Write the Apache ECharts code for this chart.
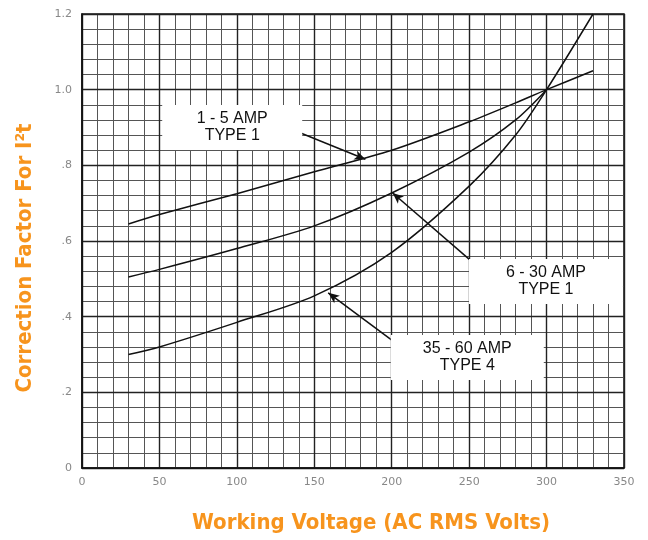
<!DOCTYPE html>
<html>
<head>
<meta charset="utf-8">
<script src="https://cdn.jsdelivr.net/npm/echarts@6/dist/echarts.min.js"></script>
<style>
  html, body { margin: 0; padding: 0; background: #fff; }
  #main { width: 648px; height: 540px; }
</style>
</head>
<body>
<div id="main"></div>
<script>
  // 数据: 电压 (V) 与 修正系数
  var voltsA = [30, 50, 100, 150, 200, 250, 280, 300, 330];
  var amp1to5 = [0.645, 0.67, 0.725, 0.783, 0.84, 0.915, 0.965, 1.0, 1.05];
  var voltsB = [30, 50, 100, 150, 200, 250, 280, 300];
  var amp6to30 = [0.505, 0.525, 0.58, 0.64, 0.727, 0.835, 0.92, 1.0];
  var voltsC = [30, 50, 100, 150, 200, 250, 280, 300, 330];
  var amp35to60 = [0.30, 0.32, 0.385, 0.455, 0.57, 0.745, 0.88, 1.0, 1.2];

  var xTicks = [0, 50, 100, 150, 200, 250, 300, 350];
  var yTickLabels = ['0', '.2', '.4', '.6', '.8', '1.0', '1.2'];

  // 标注: 文字框与箭头 (数据坐标)
  var labelTexts = ['1 - 5 AMP\nTYPE 1', '6 - 30 AMP\nTYPE 1', '35 - 60 AMP\nTYPE 4'];
  var labelCenters = [[97.0, 0.90], [299.6, 0.493], [248.8, 0.292]];
  var arrowFrom = [[136, 0.894], [252, 0.545], [207, 0.317]];
  var arrowTo = [[183, 0.816], [200.6, 0.727], [159, 0.463]];

  function pairs(xs, ys) {
    return xs.map(function (x, i) { return [x, ys[i]]; });
  }

  var orange = '#F7941D';
  var titleFont = '"Liberation Sans Narrow", "DejaVu Sans Condensed", "Roboto", sans-serif';

  var chart = echarts.init(document.getElementById('main'), null, { renderer: 'canvas' });

  var curveStyle = { color: '#111', width: 1.5 };
  var boxSizes = [[140, 45], [154, 45], [153, 45]];

  function curve(name, xs, ys, idx) {
    return {
      name: name,
      type: 'line',
      smooth: 0.3,
      symbol: 'none',
      lineStyle: curveStyle,
      data: pairs(xs, ys),
      z: 3,
      markLine: {
        silent: true,
        symbol: ['none', 'arrow'],
        symbolSize: [7, 11],
        lineStyle: { color: '#111', width: 1.5, type: 'solid' },
        label: { show: false },
        data: [[{ coord: arrowFrom[idx] }, { coord: arrowTo[idx] }]]
      },
      markPoint: {
        silent: true,
        symbol: 'rect',
        symbolSize: boxSizes[idx],
        itemStyle: { color: '#fff' },
        label: {
          show: true,
          position: 'inside',
          color: '#111',
          fontSize: 16,
          lineHeight: 17,
          fontFamily: '"Liberation Sans", Arial, sans-serif',
          formatter: labelTexts[idx]
        },
        data: [{ coord: labelCenters[idx] }]
      }
    };
  }

  var option = {
    animation: false,
    backgroundColor: '#fff',
    grid: {
      left: 82, right: 24, top: 14, bottom: 72,
      show: true, borderColor: '#111', borderWidth: 1.5
    },
    xAxis: [
      {
        type: 'value', min: 0, max: 350, interval: 50, z: 2,
        name: 'Working Voltage (AC RMS Volts)',
        nameLocation: 'middle',
        nameGap: 44,
        nameTextStyle: {
          color: orange, fontSize: 22, fontWeight: 'bold',
          fontFamily: titleFont, padding: [0, 0, 0, 36]
        },
        axisLine: { show: true, lineStyle: { color: '#111', width: 1.5 } },
        axisTick: { show: false },
        axisLabel: {
          color: '#888', fontSize: 11, margin: 9,
          fontFamily: '"DejaVu Sans", sans-serif',
          formatter: function (v) { return xTicks.indexOf(v) >= 0 ? String(v) : ''; }
        },
        splitLine: { show: true, lineStyle: { color: '#222', width: 1.4 } }
      },
      {
        type: 'value', min: 0, max: 350, interval: 10, z: 1,
        axisLine: { show: false }, axisTick: { show: false }, axisLabel: { show: false },
        splitLine: { show: true, lineStyle: { color: '#555', width: 1 } }
      }
    ],
    yAxis: [
      {
        type: 'value', min: 0, max: 1.2, interval: 0.2, z: 2,
        name: 'Correction Factor For I\u00B2t',
        nameLocation: 'middle',
        nameGap: 46,
        nameRotate: 90,
        nameTextStyle: {
          color: orange, fontSize: 22, fontWeight: 'bold',
          fontFamily: titleFont, padding: [0, 34, 0, 0]
        },
        axisLine: { show: true, lineStyle: { color: '#111', width: 1.5 } },
        axisTick: { show: false },
        axisLabel: {
          color: '#888', fontSize: 11, margin: 10,
          fontFamily: '"DejaVu Sans", sans-serif',
          formatter: function (v) { return yTickLabels[Math.round(v / 0.2)]; }
        },
        splitLine: { show: true, lineStyle: { color: '#222', width: 1.4 } }
      },
      {
        type: 'value', min: 0, max: 1.2, interval: 0.04, z: 1,
        axisLine: { show: false }, axisTick: { show: false }, axisLabel: { show: false },
        splitLine: { show: true, lineStyle: { color: '#555', width: 1 } }
      }
    ],
    series: [
      curve('1 - 5 AMP TYPE 1', voltsA, amp1to5, 0),
      curve('6 - 30 AMP TYPE 1', voltsB, amp6to30, 1),
      curve('35 - 60 AMP TYPE 4', voltsC, amp35to60, 2)
    ]
  };

  chart.setOption(option);
</script>
</body>
</html>
